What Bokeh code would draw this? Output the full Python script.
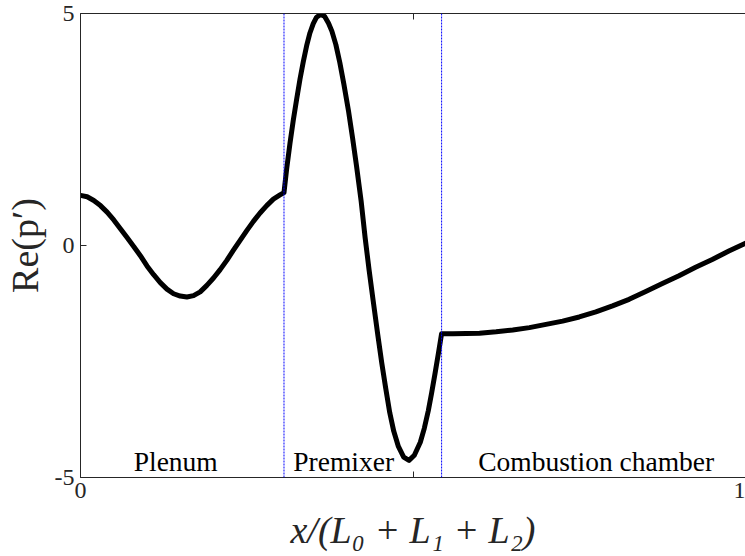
from bokeh.plotting import figure
from bokeh.models import LinearAxis, FixedTicker, Span, Label, ColumnDataSource, Range1d
from bokeh.embed import file_html
from bokeh.resources import INLINE

# ---- data ----
plenum_x = [0.000, 0.010, 0.020, 0.030, 0.040, 0.050, 0.060, 0.070, 0.080, 0.090,
            0.100, 0.110, 0.120, 0.130, 0.140, 0.150, 0.160, 0.170, 0.180, 0.190,
            0.200, 0.210, 0.220, 0.230, 0.240, 0.250, 0.260, 0.270, 0.280, 0.290,
            0.300, 0.306]
plenum_y = [1.08, 1.05, 0.97, 0.86, 0.72, 0.55, 0.36, 0.17, -0.02, -0.22,
            -0.44, -0.63, -0.80, -0.94, -1.04, -1.09, -1.11, -1.08, -1.00, -0.86,
            -0.70, -0.52, -0.32, -0.10, 0.11, 0.32, 0.52, 0.70, 0.86, 1.00,
            1.09, 1.14]

premixer_x = [0.310, 0.315, 0.320, 0.325, 0.330, 0.335, 0.340, 0.345, 0.350, 0.355,
              0.361, 0.367, 0.373, 0.378, 0.384, 0.390, 0.396, 0.403, 0.409, 0.415,
              0.422, 0.428, 0.434, 0.440, 0.447, 0.453, 0.459, 0.465, 0.471, 0.478,
              0.486, 0.494, 0.502, 0.511, 0.517, 0.523, 0.528, 0.533, 0.538, 0.543]
premixer_y = [1.65, 2.20, 2.70, 3.15, 3.58, 3.96, 4.30, 4.58, 4.78, 4.92,
              4.98, 4.94, 4.79, 4.62, 4.33, 3.94, 3.48, 2.90, 2.33, 1.72,
              0.96, 0.17, -0.53, -1.18, -1.92, -2.53, -3.08, -3.60, -4.00, -4.33,
              -4.56, -4.63, -4.52, -4.24, -3.94, -3.56, -3.18, -2.77, -2.34, -1.90]

chamber_x = [0.560, 0.580, 0.600, 0.625, 0.650, 0.675, 0.700, 0.725, 0.750, 0.775,
             0.800, 0.825, 0.850, 0.875, 0.900, 0.925, 0.950, 0.975, 1.000]
chamber_y = [-1.90, -1.895, -1.89, -1.86, -1.82, -1.77, -1.70, -1.63, -1.54, -1.43,
             -1.30, -1.16, -0.99, -0.82, -0.65, -0.47, -0.30, -0.12, 0.05]

boundaries = [0.306, 0.543]
region_names = ["Plenum", "Premixer", "Combustion chamber"]

x_ticks = [0, 0.5, 1]
x_tick_labels = {0: "0", 0.5: "", 1: "1"}
y_ticks = [-5, 0, 5]
y_tick_labels = {-5: "-5", 0: "0", 5: "5"}

x_vals = plenum_x + premixer_x + chamber_x
y_vals = plenum_y + premixer_y + chamber_y

# ---- figure ----
AX = "#262626"
FONT = "Liberation Serif"

p = figure(width=745, height=556,
           x_range=Range1d(0, 1), y_range=Range1d(-5, 5),
           output_backend="svg", toolbar_location=None,
           min_border_left=80, min_border_right=0,
           min_border_top=13, min_border_bottom=79)
p.xgrid.visible = False
p.ygrid.visible = False
p.outline_line_color = None
p.background_fill_color = "white"
p.border_fill_color = "white"

for ax in (p.xaxis[0], p.yaxis[0]):
    ax.axis_line_color = AX
    ax.major_tick_line_color = AX
    ax.minor_tick_line_color = None
    ax.major_tick_in = 6
    ax.major_tick_out = 0
    ax.major_label_text_font = FONT
    ax.major_label_text_font_size = "24px"
    ax.major_label_text_color = AX
    ax.axis_label_text_font = FONT
    ax.axis_label_text_color = AX

p.xaxis[0].ticker = FixedTicker(ticks=x_ticks)
p.xaxis[0].major_label_overrides = x_tick_labels
p.xaxis[0].major_label_standoff = 5
p.xaxis[0].axis_label = "x/(L\u2080 + L\u2081 + L\u2082)"
p.xaxis[0].axis_label_text_font_size = "38px"
p.xaxis[0].axis_label_text_font_style = "italic"
p.xaxis[0].axis_label_standoff = 8

p.yaxis[0].ticker = FixedTicker(ticks=y_ticks)
p.yaxis[0].major_label_overrides = y_tick_labels
p.yaxis[0].major_label_standoff = 6
p.yaxis[0].axis_label = "Re(p\u2032)"
p.yaxis[0].axis_label_text_font_size = "38px"
p.yaxis[0].axis_label_text_font_style = "normal"
p.yaxis[0].axis_label_standoff = 6

top = LinearAxis(ticker=FixedTicker(ticks=x_ticks),
                 major_label_overrides={0: "", 0.5: "", 1: ""},
                 major_label_text_font_size="0px", major_label_standoff=0,
                 major_tick_in=6, major_tick_out=0,
                 axis_line_color=AX, major_tick_line_color=AX,
                 minor_tick_line_color=None)
p.add_layout(top, "above")

for b in boundaries:
    p.add_layout(Span(location=b, dimension="height", line_color="#0000ff",
                      line_width=1, line_dash="2 1"))

src = ColumnDataSource(dict(x=x_vals, y=y_vals))
p.line("x", "y", source=src, line_color="black", line_width=5,
       line_join="round", line_cap="round")

label_x = [0.080, 0.320, 0.598]
for name, lx in zip(region_names, label_x):
    p.add_layout(Label(x=lx, y=-4.99, text=name, text_font=FONT,
                       text_font_size="27.5px", text_color="black",
                       text_align="left", text_baseline="bottom"))

open("out.html", "w").write(file_html(p, INLINE))
